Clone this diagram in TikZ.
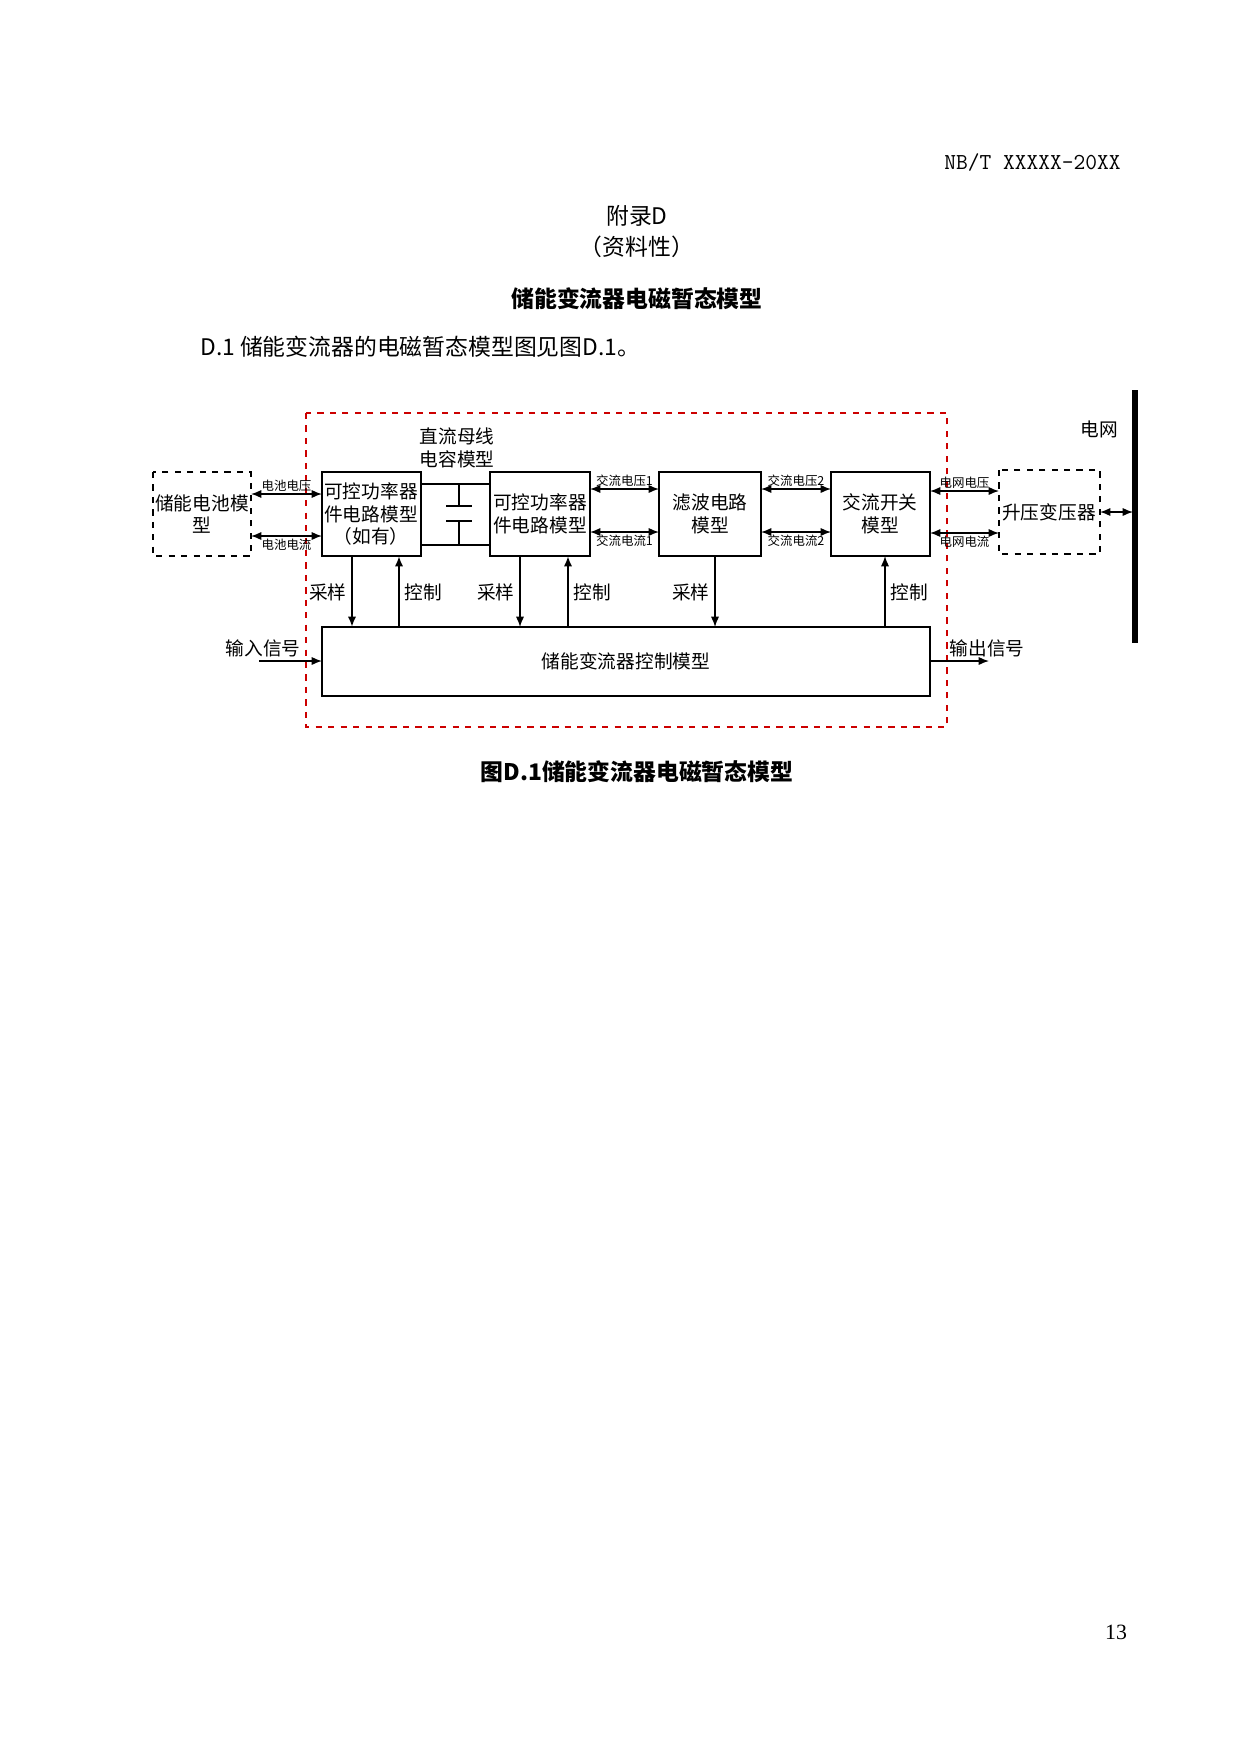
\documentclass[tikz,border=0pt]{standalone}
\usepackage{fontspec}
\setmainfont{Liberation Serif}
\newfontfamily\cjk{Noto Sans CJK SC}
\newfontfamily\cjkb{Noto Sans CJK SC}[BoldFont={* Bold}]
\usetikzlibrary{arrows.meta}
\begin{document}
\begin{tikzpicture}[x=0.016935cm,y=-0.016935cm,
  blk/.style={draw,line width=1.1pt,minimum width=99\tikzpxu,minimum height=84\tikzpxu,inner sep=0pt,align=center,font=\cjk\fontsize{9}{11}\selectfont},
  dblk/.style={draw,dashed,line width=0.9pt,inner sep=0pt,align=center,font=\cjk\fontsize{9}{11}\selectfont},
  lab/.style={font=\cjk\fontsize{9}{11}\selectfont,inner sep=1pt},
  tiny/.style={font=\cjk\fontsize{6}{7}\selectfont,inner sep=1pt},
  arr/.style={-{Latex[length=5pt,width=4pt]},line width=0.7pt},
  darr/.style={{Latex[length=5pt,width=4pt]}-{Latex[length=5pt,width=4pt]},line width=0.7pt}]
\def\tikzpxu{pt}
\useasboundingbox[fill=white] (0,0) rectangle (1240,1754);
% header
\node[anchor=east,font=\ttfamily\fontsize{11}{13}\selectfont] (hd) at (1128,163) {NB/T XXXXX\textemdash20XX};
\node[font=\cjk\fontsize{11}{13}\selectfont] (t1) at (637,216) {附录D};
\node[font=\cjk\fontsize{11}{13}\selectfont] (t2) at (637,247) {（资料性）};
\node[font=\cjk\bfseries\fontsize{11}{13}\selectfont] (t3) at (637,299) {储能变流器电磁暂态模型};
\node[anchor=west,font=\cjk\fontsize{11}{13}\selectfont] (t4) at (193,347) {D.1 储能变流器的电磁暂态模型图见图D.1。};
% red dashed frame
\draw[dashed,red!80!black,line width=0.8pt] (306,413) rectangle (947,727);
% boxes
\draw[dashed,line width=0.9pt] (153,472) rectangle (251,556);
\node[lab,align=center] (bat) at (202,514) {储能电池模\\型};
\coordinate (batE) at (251,514);
\draw[line width=1.1pt] (322,472) rectangle (421,556);
\node[lab,align=center] (b1) at (371,514) {可控功率器\\件电路模型\\（如有）};
\draw[line width=1.1pt] (490,472) rectangle (590,556);
\node[lab,align=center] (b2) at (540,514) {可控功率器\\件电路模型};
\draw[line width=1.1pt] (659,472) rectangle (761,556);
\node[lab,align=center] (fl) at (710,514) {滤波电路\\模型};
\draw[line width=1.1pt] (831,472) rectangle (930,556);
\node[lab,align=center] (sw) at (880,514) {交流开关\\模型};
\draw[dashed,line width=0.9pt] (999,470) rectangle (1100,554);
\node[lab] (tr) at (1049,512) {升压变压器};
\draw[line width=1.1pt] (322,627) rectangle (930,696);
\node[lab] (ct) at (626,661) {储能变流器控制模型};
% grid bar
\draw[line width=3pt] (1135,390) -- (1135,643);
\node[lab] (grid) at (1099,429) {电网};
% capacitor
\draw[line width=1.1pt] (421,484) -- (490,484);
\draw[line width=0.7pt] (421,545) -- (490,545);
\draw[line width=1.1pt] (459,484) -- (459,506);
\draw[line width=0.7pt] (459,521) -- (459,545);
\draw[line width=1.3pt] (446,506) -- (472,506);
\draw[line width=1.3pt] (446,521) -- (472,521);
\node[lab,align=center] (capl) at (457,448) {直流母线\\电容模型};
% horizontal double arrows
\draw[darr] (251,494) -- (322,494) node[tiny,midway,above] {电池电压};
\draw[darr] (251,536) -- (322,536) node[tiny,midway,below] {电池电流};
\draw[darr] (590,489) -- (659,489) node[tiny,midway,above] {交流电压1};
\draw[darr] (590,532) -- (659,532) node[tiny,midway,below] {交流电流1};
\draw[darr] (761,489) -- (831,489) node[tiny,midway,above] {交流电压2};
\draw[darr] (761,532) -- (831,532) node[tiny,midway,below] {交流电流2};
\draw[darr] (930,491) -- (999,491) node[tiny,midway,above] {电网电压};
\draw[darr] (930,533) -- (999,533) node[tiny,midway,below] {电网电流};
\draw[darr] (1100,512) -- (1133,512);
% vertical arrows
\draw[arr,line width=1.1pt] (352,556) -- (352,627);
\node[lab,anchor=east] at (349,592) {采样};
\draw[arr,line width=1.1pt] (399,627) -- (399,556);
\node[lab,anchor=west] at (402,592) {控制};
\draw[arr] (520,556) -- (520,627);
\node[lab,anchor=east] at (517,592) {采样};
\draw[arr,line width=1.1pt] (568,627) -- (568,556);
\node[lab,anchor=west] at (571,592) {控制};
\draw[arr] (715,556) -- (715,627);
\node[lab,anchor=east] at (712,592) {采样};
\draw[arr] (885,627) -- (885,556);
\node[lab,anchor=west] at (888,592) {控制};
% input / output
\coordinate (in0) at (259,661);
\draw[arr] (in0) -- (322,661);
\node[lab] at (263,648) {输入信号};
\coordinate (out0) at (989,661);
\draw[arr] (930,661) -- (out0);
\node[lab] at (987,648) {输出信号};
% caption
\node[font=\cjk\bfseries\fontsize{11}{13}\selectfont] (cap) at (637,772) {图D.1储能变流器电磁暂态模型};
\node[font=\fontsize{10.5}{12}\selectfont] (pg) at (1116,1632) {13};
\end{tikzpicture}
\end{document}
